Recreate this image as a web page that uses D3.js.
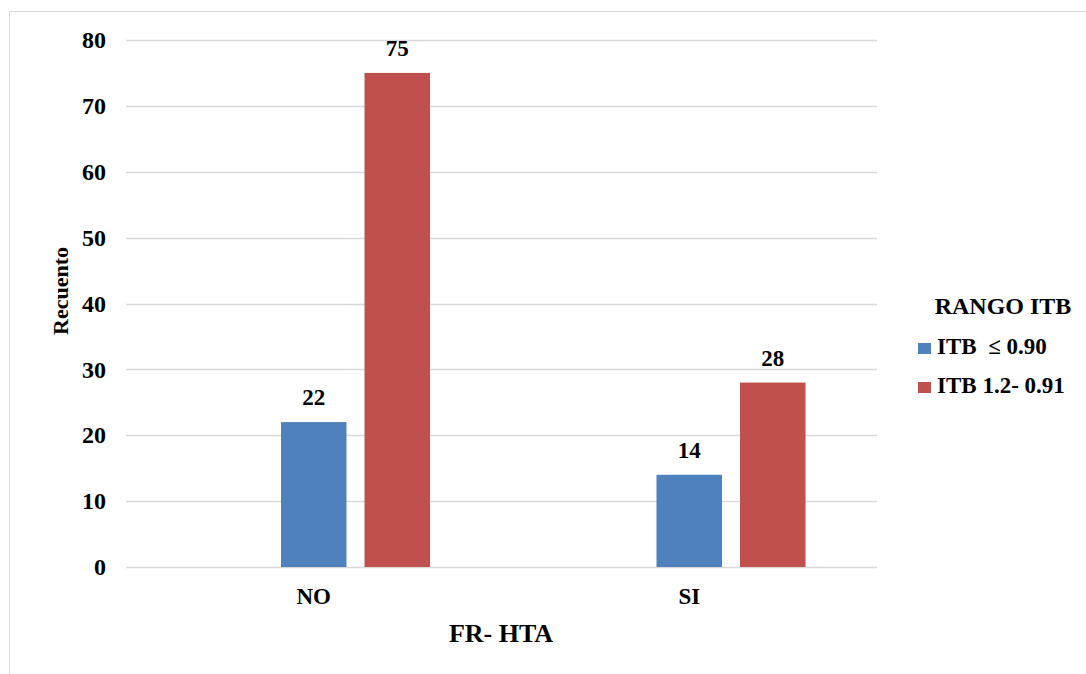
<!DOCTYPE html>
<html>
<head>
<meta charset="utf-8">
<script src="https://cdn.jsdelivr.net/npm/d3@7/dist/d3.min.js"></script>
<style>
  html, body { margin: 0; padding: 0; background: #fff; }
  svg { display: block; }
  text { font-family: "Liberation Serif", "Times New Roman", serif; font-weight: bold; fill: #000; }
</style>
</head>
<body>
<svg id="chart" width="1086" height="674"></svg>
<script>
// Categories (FR- HTA) and the two ITB ranges
const categories = ["NO", "SI"];
const seriesNames = ["ITB  \u2264 0.90", "ITB 1.2- 0.91"];
const seriesColors = ["#4f81bd", "#c0504d"];
const valuesLow = [22, 14];   // ITB <= 0.90
const valuesHigh = [75, 28];  // ITB 1.2 - 0.91
const yTicks = [0, 10, 20, 30, 40, 50, 60, 70, 80];

const svg = d3.select("#chart");

// outer frame
svg.append("rect")
  .attr("x", 9.5).attr("y", 11.5)
  .attr("width", 1100).attr("height", 700)
  .attr("fill", "none").attr("stroke", "#d9d9d9").attr("stroke-width", 1);

const plot = { left: 126, right: 877, top: 40, bottom: 567 };

const y = d3.scaleLinear().domain([0, 80]).range([plot.bottom, plot.top]);
const x0 = d3.scaleBand().domain(categories).range([plot.left, plot.right]).padding(0);
// three slots per category; the first is left empty so the category centers on the first series
const slots = ["_", ...seriesNames];
const x1 = d3.scaleBand().domain(slots).range([0, x0.bandwidth()])
  .paddingInner(0.2156).paddingOuter(0.856);

// gridlines
svg.append("g")
  .selectAll("line")
  .data(yTicks)
  .join("line")
  .attr("x1", plot.left).attr("x2", plot.right)
  .attr("y1", d => Math.round(y(d)) + 0.5).attr("y2", d => Math.round(y(d)) + 0.5)
  .attr("stroke", "#d9d9d9").attr("stroke-width", 1.5);

// y axis labels
const yAxis = d3.axisLeft(y).tickValues(yTicks).tickSize(0).tickPadding(20);
const gy = svg.append("g").attr("transform", `translate(${plot.left},0)`).call(yAxis);
gy.select(".domain").remove();
gy.selectAll("text").attr("font-size", 24).attr("dy", "0.32em");

// category labels, centered under each category band
const xAxis = d3.axisBottom(x0).tickSize(0).tickPadding(20);
const gx = svg.append("g").attr("transform", `translate(0,${plot.bottom})`).call(xAxis);
gx.select(".domain").remove();
gx.selectAll("text").attr("font-size", 23).attr("dy", "0.71em").attr("y", 21);

// bars with value labels
const series = [valuesLow, valuesHigh];
series.forEach((vals, si) => {
  const rows = categories.map((c, i) => ({ c, v: vals[i] }));
  const g = svg.append("g");
  g.selectAll("rect")
    .data(rows)
    .join("rect")
    .attr("x", d => x0(d.c) + x1(seriesNames[si]))
    .attr("y", d => y(d.v))
    .attr("width", x1.bandwidth())
    .attr("height", d => y(0) - y(d.v))
    .attr("fill", seriesColors[si]);
  g.selectAll("text")
    .data(rows)
    .join("text")
    .attr("x", d => x0(d.c) + x1(seriesNames[si]) + x1.bandwidth() / 2)
    .attr("y", d => y(d.v) - 17)
    .attr("text-anchor", "middle")
    .attr("font-size", 23)
    .text(d => d.v);
});

// axis titles
svg.append("text")
  .attr("x", 501).attr("y", 642)
  .attr("text-anchor", "middle").attr("font-size", 26)
  .text("FR- HTA");

svg.append("text")
  .attr("transform", "translate(68,291) rotate(-90)")
  .attr("text-anchor", "middle").attr("font-size", 22)
  .text("Recuento");

// legend
const legend = svg.append("g");
legend.append("text")
  .attr("x", 1003).attr("y", 314)
  .attr("text-anchor", "middle").attr("font-size", 24)
  .text("RANGO ITB");
seriesNames.forEach((name, i) => {
  const yy = 354 + i * 39;
  legend.append("rect")
    .attr("x", 918).attr("y", yy - 11)
    .attr("width", 13).attr("height", 11)
    .attr("fill", seriesColors[i]);
  legend.append("text")
    .attr("x", 937).attr("y", yy)
    .attr("font-size", 23)
    .style("white-space", "pre")
    .text(name);
});
</script>
</body>
</html>
